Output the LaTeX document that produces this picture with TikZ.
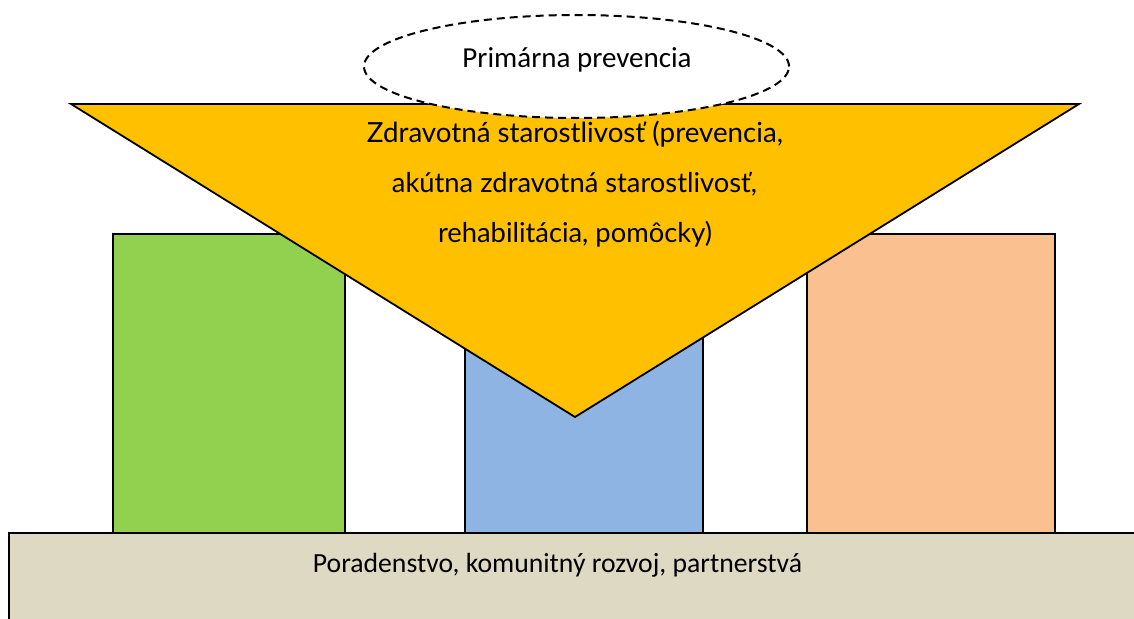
\documentclass[tikz,border=0pt]{standalone}
\usepackage{fontspec}
\setmainfont{Carlito}
\newfontfamily\gillfont{Lato}
\usetikzlibrary{shapes.geometric}
\definecolor{triorange}{HTML}{FFC000}
\definecolor{pgreen}{HTML}{92D050}
\definecolor{pblue}{HTML}{8EB4E3}
\definecolor{ppeach}{HTML}{FAC090}
\definecolor{pbase}{HTML}{DDD9C3}
\tikzset{
  pillar/.style={draw=black, line width=2pt},
  lbl/.style={font=\fontsize{29}{34}\selectfont, inner sep=0pt, anchor=base},
  trilbl/.style={inner sep=0pt, anchor=base},
}
\begin{document}
\begin{tikzpicture}[x=1pt,y=-1pt]
\clip (0,0) rectangle (1134,618);
\useasboundingbox (0,0) rectangle (1134,618);
\fill[white] (0,0) rectangle (1134,618);
% pillars
\path[pillar, fill=pgreen] (113,234) rectangle (345,533);
\path[pillar, fill=pblue] (465,234) rectangle (703,533);
\path[pillar, fill=ppeach] (807,234) rectangle (1055,533);
% base
\path[pillar, fill=pbase] (9,533) rectangle (1145,630);
\node[lbl, font=\fontsize{27.7}{33}\selectfont] (base) at (557.5,572) {Poradenstvo, komunitný rozvoj, partnerstvá};
% triangle
\path[draw=black, line width=1.8pt, fill=triorange, line join=miter]
  (71,104) -- (1079,104) -- (575,417) -- cycle;
\node[trilbl] (t1) at (575,142) {\gillfont\resizebox{416pt}{!}{Zdravotná starostlivosť (prevencia,}};
\node[trilbl] (t2) at (574.5,192) {\gillfont\resizebox{365pt}{!}{akútna zdravotná starostlivosť,}};
\node[trilbl] (t3) at (575,242) {\gillfont\resizebox{274pt}{!}{rehabilitácia, pomôcky)}};
% ellipse
\node[ellipse, draw=black, fill=white, dash pattern=on 8pt off 5pt, line width=2pt,
      minimum width=425pt, minimum height=103pt, inner sep=0pt] (prim) at (576.5,66.5) {};
\node[lbl] (primtxt) at (577,67) {Primárna prevencia};
\end{tikzpicture}
\end{document}
